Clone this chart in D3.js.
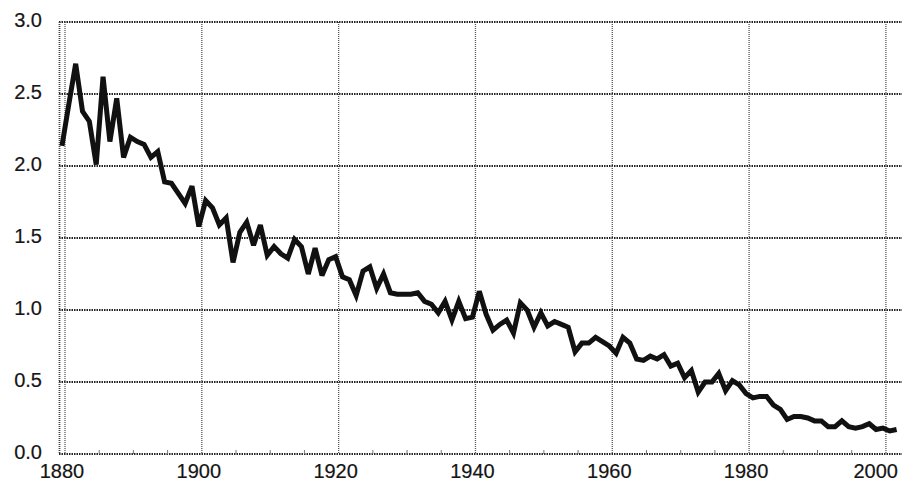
<!DOCTYPE html>
<html>
<head>
<meta charset="utf-8">
<script src="https://cdn.jsdelivr.net/npm/d3@7"></script>
<style>
  html, body { margin: 0; padding: 0; background: #fff; }
  svg { display: block; }
  .tick-label { font-family: 'Liberation Sans', Arial, sans-serif; font-size: 20px; fill: #151515; stroke: #151515; stroke-width: 0.2px; }
</style>
</head>
<body>
<svg id="chart"></svg>
<script>
// yearly values, 1880 to 2002
const startYear = 1880;
const values = [
  2.14, 2.43, 2.71, 2.38, 2.31, 2.01, 2.62, 2.17, 2.47, 2.06,
  2.20, 2.17, 2.15, 2.06, 2.10, 1.89, 1.88, 1.81, 1.74, 1.86,
  1.58, 1.76, 1.71, 1.59, 1.64, 1.33, 1.54, 1.61, 1.45, 1.59,
  1.38, 1.44, 1.39, 1.36, 1.49, 1.44, 1.25, 1.43, 1.24, 1.35,
  1.37, 1.23, 1.21, 1.10, 1.27, 1.30, 1.15, 1.25, 1.12, 1.11,
  1.11, 1.11, 1.12, 1.06, 1.04, 0.98, 1.06, 0.93, 1.06, 0.94,
  0.95, 1.13, 0.97, 0.86, 0.90, 0.93, 0.84, 1.05, 1.00, 0.88,
  0.98, 0.89, 0.92, 0.90, 0.88, 0.71, 0.77, 0.77, 0.81, 0.78,
  0.75, 0.70, 0.81, 0.77, 0.66, 0.65, 0.68, 0.66, 0.69, 0.61,
  0.63, 0.53, 0.58, 0.43, 0.50, 0.50, 0.56, 0.44, 0.51, 0.48,
  0.42, 0.39, 0.40, 0.40, 0.34, 0.31, 0.24, 0.26, 0.26, 0.25,
  0.23, 0.23, 0.19, 0.19, 0.23, 0.19, 0.18, 0.19, 0.21, 0.17,
  0.18, 0.16, 0.17
];
const xTicks = [1880, 1900, 1920, 1940, 1960, 1980, 2000];
const xMinorTicks = d3.range(1885, 2001, 5).filter(d => d % 20 !== 0);
const yTicks = [0, 0.5, 1.0, 1.5, 2.0, 2.5, 3.0];

const width = 902;
const height = 485;
const plot = { left: 59, right: 902, top: 22, bottom: 454 };
const gridShift = 3; // grid sits a few px right of the data in the scan

const data = values.map((v, i) => ({ year: startYear + i, value: v }));

const x = d3.scaleLinear()
  .domain([1880, 2002])
  .range([62, 896.6]);
const y = d3.scaleLinear()
  .domain([0, 3])
  .range([plot.bottom, plot.top]);

const svg = d3.select('#chart')
  .attr('width', width)
  .attr('height', height);

// horizontal grid
svg.append('g')
  .selectAll('line')
  .data(yTicks)
  .enter().append('line')
    .attr('x1', plot.left)
    .attr('x2', plot.right)
    .attr('y1', d => y(d))
    .attr('y2', d => y(d))
    .attr('stroke', '#222')
    .attr('stroke-width', d => d === 0 ? 2.2 : 1.8)
    .attr('stroke-dasharray', '1.5,1');

// vertical grid
svg.append('g')
  .selectAll('line')
  .data(xTicks)
  .enter().append('line')
    .attr('x1', d => x(d) + gridShift)
    .attr('x2', d => x(d) + gridShift)
    .attr('y1', plot.top)
    .attr('y2', plot.bottom)
    .attr('stroke', '#555')
    .attr('stroke-width', 1.3)
    .attr('stroke-dasharray', '1,1');

// left frame
svg.append('line')
  .attr('x1', plot.left + 0.5)
  .attr('x2', plot.left + 0.5)
  .attr('y1', plot.top)
  .attr('y2', plot.bottom)
  .attr('stroke', '#444')
  .attr('stroke-width', 1.8)
  .attr('stroke-dasharray', '1,1');

// minor ticks on the bottom axis
svg.append('g')
  .selectAll('line')
  .data(xMinorTicks)
  .enter().append('line')
    .attr('x1', d => x(d) + gridShift)
    .attr('x2', d => x(d) + gridShift)
    .attr('y1', plot.bottom - 4)
    .attr('y2', plot.bottom)
    .attr('stroke', '#777')
    .attr('stroke-width', 1);

// the series
const line = d3.line()
  .x(d => x(d.year))
  .y(d => y(d.value));

svg.append('path')
  .datum(data)
  .attr('fill', 'none')
  .attr('stroke', '#111')
  .attr('stroke-width', 5)
  .attr('stroke-linejoin', 'miter')
  .attr('stroke-miterlimit', 3)
  .attr('d', line);

// y labels
svg.append('g')
  .selectAll('text')
  .data(yTicks)
  .enter().append('text')
    .attr('class', 'tick-label')
    .attr('x', 42)
    .attr('y', d => y(d) - 2)
    .attr('dy', '0.36em')
    .attr('text-anchor', 'end')
    .text(d => d3.format('.1f')(d));

// x labels
svg.append('g')
  .selectAll('text')
  .data(xTicks)
  .enter().append('text')
    .attr('class', 'tick-label')
    .attr('x', d => d === 2000 ? width - 4 : x(d) + gridShift - 3)
    .attr('y', 478)
    .attr('text-anchor', d => d === 2000 ? 'end' : 'middle')
    .text(d => d);
</script>
</body>
</html>
